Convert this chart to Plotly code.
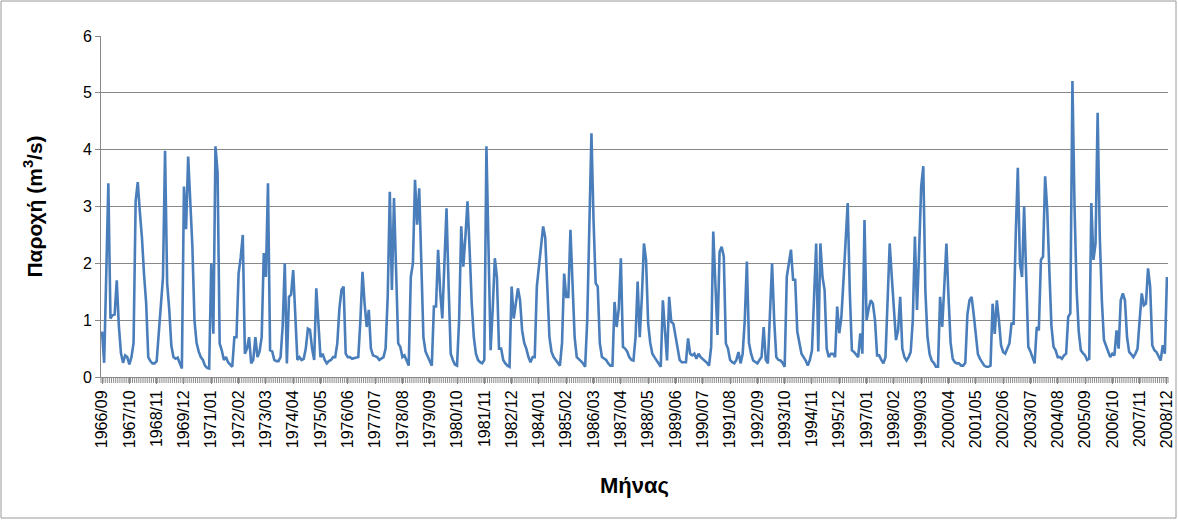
import plotly.graph_objects as go

# Monthly discharge (m3/s), Sep 1966 - Dec 2008, one list per calendar year
q1966 = [0.80, 0.25, 1.80, 3.41]
q1967 = [1.03, 1.09, 1.10, 1.70, 0.90, 0.42, 0.25, 0.38, 0.35, 0.22, 0.35, 0.60]
q1968 = [3.10, 3.43, 2.90, 2.45, 1.80, 1.30, 0.35, 0.28, 0.24, 0.24, 0.28, 0.80]
q1969 = [1.30, 1.75, 3.98, 1.65, 1.18, 0.55, 0.35, 0.32, 0.34, 0.24, 0.15, 3.35]
q1970 = [2.60, 3.88, 3.10, 2.30, 1.00, 0.60, 0.45, 0.35, 0.30, 0.20, 0.16, 0.15]
q1971 = [2.00, 0.76, 4.06, 3.60, 0.59, 0.47, 0.30, 0.35, 0.26, 0.22, 0.18, 0.70]
q1972 = [0.70, 1.82, 2.10, 2.50, 0.41, 0.50, 0.70, 0.24, 0.30, 0.70, 0.35, 0.45]
q1973 = [0.70, 2.18, 1.76, 3.41, 0.47, 0.45, 0.30, 0.28, 0.28, 0.35, 0.90, 2.00]
q1974 = [0.24, 1.41, 1.45, 1.88, 1.20, 0.30, 0.35, 0.30, 0.32, 0.50, 0.85, 0.83]
q1975 = [0.50, 0.30, 1.56, 1.00, 0.35, 0.41, 0.30, 0.24, 0.28, 0.30, 0.35, 0.35]
q1976 = [0.59, 1.20, 1.53, 1.59, 0.41, 0.35, 0.35, 0.32, 0.33, 0.35, 0.35, 1.00]
q1977 = [1.85, 1.29, 0.88, 1.18, 0.50, 0.38, 0.36, 0.35, 0.30, 0.33, 0.35, 0.50]
q1978 = [1.41, 3.26, 1.53, 3.15, 1.60, 0.59, 0.53, 0.35, 0.38, 0.30, 0.20, 1.76]
q1979 = [2.00, 3.47, 2.68, 3.32, 1.88, 0.70, 0.45, 0.35, 0.28, 0.20, 1.24, 1.24]
q1980 = [2.24, 1.50, 1.03, 2.00, 2.97, 1.59, 0.41, 0.30, 0.22, 0.20, 1.00, 2.65]
q1981 = [1.94, 2.47, 3.09, 2.24, 1.30, 0.70, 0.41, 0.30, 0.26, 0.24, 0.30, 4.06]
q1982 = [2.30, 0.47, 1.20, 2.09, 1.76, 0.50, 0.50, 0.30, 0.24, 0.20, 0.18, 1.59]
q1983 = [1.03, 1.30, 1.56, 1.35, 0.82, 0.60, 0.50, 0.35, 0.26, 0.35, 0.35, 1.59]
q1984 = [1.94, 2.30, 2.65, 2.45, 1.50, 0.70, 0.44, 0.35, 0.30, 0.24, 0.20, 0.60]
q1985 = [1.82, 1.41, 1.41, 2.59, 1.50, 0.70, 0.35, 0.32, 0.28, 0.24, 0.18, 1.00]
q1986 = [2.50, 4.29, 2.76, 1.65, 1.59, 0.59, 0.35, 0.32, 0.30, 0.24, 0.20, 0.20]
q1987 = [1.32, 0.88, 1.20, 2.09, 0.53, 0.50, 0.45, 0.35, 0.30, 0.29, 0.70, 1.68]
q1988 = [0.70, 1.40, 2.35, 2.06, 0.94, 0.60, 0.41, 0.35, 0.29, 0.24, 0.18, 1.35]
q1989 = [0.80, 0.29, 1.41, 0.97, 0.94, 0.70, 0.47, 0.30, 0.26, 0.26, 0.26, 0.68]
q1990 = [0.41, 0.38, 0.41, 0.32, 0.41, 0.35, 0.32, 0.29, 0.25, 0.20, 0.53, 2.56]
q1991 = [1.50, 0.74, 2.20, 2.29, 2.12, 0.59, 0.50, 0.30, 0.26, 0.24, 0.30, 0.44]
q1992 = [0.24, 0.41, 1.00, 2.03, 0.60, 0.41, 0.29, 0.26, 0.24, 0.30, 0.35, 0.88]
q1993 = [0.30, 0.24, 1.00, 2.00, 1.00, 0.35, 0.30, 0.29, 0.25, 0.18, 1.76, 2.00]
q1994 = [2.24, 1.71, 1.71, 0.80, 0.59, 0.41, 0.35, 0.29, 0.20, 0.30, 0.47, 1.40]
q1995 = [2.35, 0.45, 2.35, 1.76, 1.53, 0.50, 0.35, 0.41, 0.41, 0.35, 1.24, 0.77]
q1996 = [1.06, 1.70, 2.40, 3.06, 1.50, 0.47, 0.44, 0.40, 0.35, 0.77, 0.41, 2.76]
q1997 = [1.00, 1.20, 1.35, 1.29, 1.00, 0.38, 0.38, 0.30, 0.24, 0.35, 1.30, 2.35]
q1998 = [1.76, 1.10, 0.65, 0.82, 1.41, 0.50, 0.35, 0.29, 0.35, 0.44, 1.00, 2.47]
q1999 = [1.18, 2.20, 3.35, 3.71, 1.50, 0.70, 0.40, 0.29, 0.25, 0.18, 0.18, 1.41]
q2000 = [0.88, 1.60, 2.35, 1.41, 0.60, 0.32, 0.26, 0.24, 0.24, 0.20, 0.20, 0.25]
q2001 = [1.10, 1.35, 1.41, 1.10, 0.70, 0.40, 0.32, 0.26, 0.20, 0.18, 0.18, 0.20]
q2002 = [1.29, 0.76, 1.35, 1.00, 0.56, 0.44, 0.41, 0.50, 0.59, 0.94, 0.94, 2.50]
q2003 = [3.68, 2.00, 1.76, 3.00, 1.60, 0.53, 0.45, 0.35, 0.24, 0.88, 0.82, 2.06]
q2004 = [2.12, 3.53, 2.94, 1.88, 0.90, 0.53, 0.47, 0.35, 0.35, 0.32, 0.38, 0.41]
q2005 = [1.06, 1.12, 5.21, 3.00, 1.53, 0.80, 0.47, 0.42, 0.38, 0.30, 0.32, 3.06]
q2006 = [2.06, 2.35, 4.65, 2.50, 1.35, 0.65, 0.53, 0.45, 0.35, 0.41, 0.38, 0.82]
q2007 = [0.50, 1.35, 1.47, 1.35, 0.70, 0.44, 0.40, 0.35, 0.41, 0.50, 1.00, 1.47]
q2008 = [1.26, 1.29, 1.91, 1.59, 0.56, 0.47, 0.44, 0.35, 0.29, 0.56, 0.41, 1.76]

years = [q1966, q1967, q1968, q1969, q1970, q1971, q1972, q1973, q1974, q1975,
         q1976, q1977, q1978, q1979, q1980, q1981, q1982, q1983, q1984, q1985,
         q1986, q1987, q1988, q1989, q1990, q1991, q1992, q1993, q1994, q1995,
         q1996, q1997, q1998, q1999, q2000, q2001, q2002, q2003, q2004, q2005,
         q2006, q2007, q2008]
flow = [v for yr in years for v in yr]

# Month labels "YYYY/MM" starting 1966/09
month_labels = []
y, m = 1966, 9
for _ in range(len(flow)):
    month_labels.append(f"{y}/{m:02d}")
    m += 1
    if m > 12:
        m = 1
        y += 1

idx = list(range(len(flow)))
tick_idx = idx[::13]
tick_text = [month_labels[i] for i in tick_idx]

font_family = "Liberation Sans, Arial, sans-serif"
grid_color = "#888888"

fig = go.Figure()
fig.add_trace(go.Scatter(
    x=idx, y=flow, mode="lines",
    line=dict(color="#4a7ebb", width=2.6),
    text=month_labels, hovertemplate="%{text}: %{y}<extra></extra>",
    showlegend=False,
))

W, H = 1178, 520
ml, mr, mt, mb = 101, 10, 36, 143
pw, ph = W - ml - mr, H - mt - mb
xrange = [-0.5, len(flow) - 0.5]
n = len(flow)

# monthly category boundary tick marks (dense hatch under the axis), paper units
tick_h = 6 / ph
hatch = " ".join(f"M{(k / n):.5f},0 L{(k / n):.5f},{-tick_h:.5f}" for k in range(n + 1))

fig.update_layout(
    width=W, height=H,
    margin=dict(l=ml, r=mr, t=mt, b=mb),
    paper_bgcolor="white", plot_bgcolor="white",
    font=dict(family=font_family, size=14, color="black"),
    xaxis=dict(
        range=xrange, automargin=False,
        tickmode="array", tickvals=tick_idx, ticktext=tick_text,
        tickangle=-90, ticks="outside", ticklen=6, tickcolor=grid_color,
        tickfont=dict(size=16),
        showgrid=False, zeroline=False,
        showline=True, linecolor=grid_color, linewidth=1,
        title=dict(text="<b>Μήνας</b>", font=dict(size=22), standoff=30),
    ),
    yaxis=dict(
        range=[0, 6], dtick=1, tickmode="linear", automargin=False,
        showgrid=True, gridcolor=grid_color, gridwidth=1,
        zeroline=False, showline=True, linecolor=grid_color, linewidth=1,
        ticks="outside", ticklen=5, tickcolor=grid_color,
        tickfont=dict(size=16),
        title=dict(text="<b>Παροχή (m<sup>3</sup>/s)</b>", font=dict(size=21), standoff=34),
    ),
    shapes=[
        dict(type="rect", xref="paper", yref="paper",
             x0=(1 - ml) / pw, x1=(W - 2 - ml) / pw,
             y0=(H - mb - (H - 2)) / ph, y1=(H - mb - 1) / ph,
             line=dict(color="#9a9a9a", width=1), fillcolor="rgba(0,0,0,0)",
             layer="below"),
        dict(type="path", xref="paper", yref="paper", path=hatch,
             line=dict(color="#8c8c8c", width=1), layer="above"),
    ],
)

fig.write_html("out.html", config={"displayModeBar": False},
               post_script="document.body.style.margin='0';")
